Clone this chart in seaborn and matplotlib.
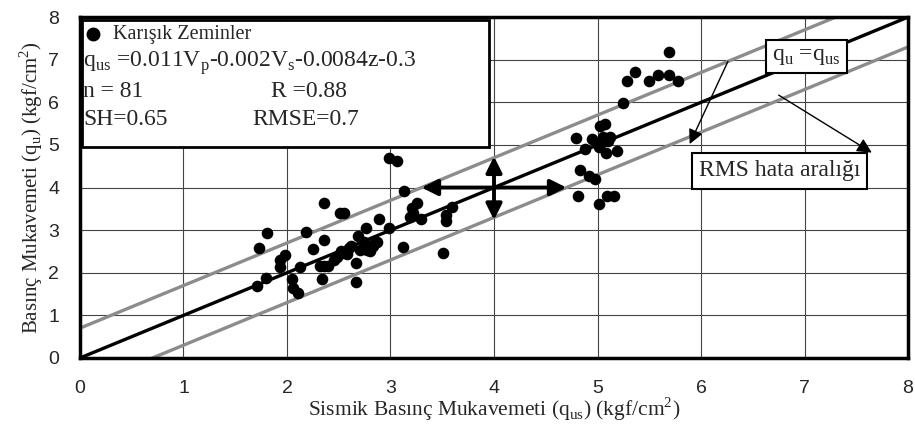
import numpy as np
import pandas as pd
import seaborn as sns
import matplotlib.pyplot as plt
from matplotlib.patches import Rectangle

q_us = [5.69, 5.36, 5.28, 5.50, 5.58, 5.69, 5.78, 5.25, 5.02, 5.07,
        4.79, 4.95, 5.05, 5.12, 5.01, 4.88, 5.08, 5.19, 4.83, 4.92,
        4.98, 4.81, 5.01, 5.09, 5.16, 5.03,
        2.99, 3.06, 3.13, 3.26, 3.21, 3.19, 3.29, 3.59, 3.54, 3.54,
        2.99, 3.12, 3.51, 2.89,
        2.36, 2.51, 2.55, 2.76, 2.18, 2.36, 2.69, 2.74, 2.87, 2.25,
        2.60, 2.71, 2.80, 2.53, 2.48, 2.36, 2.32, 2.40, 2.67, 2.13,
        2.34, 2.67, 2.52, 2.77, 2.85,
        1.81, 1.73, 1.98, 1.93, 1.93, 1.80, 1.71, 2.05, 2.06, 2.11,
        2.62, 2.45, 2.58, 2.83, 3.22, 5.10]
q_u = [7.17, 6.72, 6.50, 6.50, 6.64, 6.64, 6.50, 5.98, 5.45, 5.49,
       5.17, 5.13, 5.19, 5.19, 4.96, 4.91, 4.80, 4.86, 4.41, 4.28,
       4.19, 3.80, 3.61, 3.80, 3.80, 5.05,
       4.69, 4.63, 3.93, 3.63, 3.51, 3.32, 3.26, 3.54, 3.36, 3.22,
       3.04, 2.60, 2.46, 3.26,
       3.63, 3.41, 3.40, 3.04, 2.95, 2.77, 2.86, 2.73, 2.73, 2.56,
       2.57, 2.54, 2.50, 2.46, 2.38, 2.16, 2.16, 2.16, 2.24, 2.14,
       1.85, 1.79, 2.50, 2.54, 2.73,
       2.94, 2.59, 2.42, 2.30, 2.14, 1.87, 1.70, 1.85, 1.64, 1.52,
       2.62, 2.30, 2.45, 2.62, 3.40, 5.10]

rmse = 0.7
ticks = list(range(0, 9))
line_x = [0, 8]

df = pd.DataFrame({'q_us': q_us, 'q_u': q_u})

sns.set_style('white')
plt.rcParams['font.family'] = ['Liberation Serif', 'DejaVu Serif']
plt.rcParams['mathtext.fontset'] = 'custom'
plt.rcParams['mathtext.rm'] = 'Liberation Serif'

fig = plt.figure(figsize=(9.15, 4.28), dpi=100)
ax = fig.add_axes([0.0874, 0.1636, 0.905, 0.7964])

# 1:1 line and RMS band
sns.lineplot(x=line_x, y=line_x, color='black', linewidth=2.4, ax=ax, zorder=3)
sns.lineplot(x=line_x, y=[v + rmse for v in line_x], color='#8c8c8c', linewidth=2.4, ax=ax, zorder=2)
sns.lineplot(x=line_x, y=[v - rmse for v in line_x], color='#8c8c8c', linewidth=2.4, ax=ax, zorder=2)

sns.scatterplot(data=df, x='q_us', y='q_u', color='black', s=70, edgecolor='black',
                linewidth=0, ax=ax, zorder=4)

ax.set_xlim(0, 8)
ax.set_ylim(0, 8)
ax.set_xticks(ticks)
ax.set_yticks(ticks)
ax.grid(True, color='#444444', linewidth=0.8)
ax.set_axisbelow(True)
for sp in ax.spines.values():
    sp.set_visible(True)
    sp.set_linewidth(2.5)
    sp.set_color('black')
ax.tick_params(direction='out', length=5, width=1, color='black')
ax.tick_params(axis='x', pad=11)
ax.tick_params(axis='y', pad=10)
for lab in ax.get_xticklabels() + ax.get_yticklabels():
    lab.set_fontfamily('Liberation Sans')
    lab.set_fontsize(14)

ax.set_xlabel('Sismik Basınç Mukavemeti (q$_{\\mathregular{us}}$) (kgf/cm$^{\\mathregular{2}}$)',
              fontsize=15.5, labelpad=-1)
ax.set_ylabel('Basınç Mukavemeti (q$_{\\mathregular{u}}$) (kgf/cm$^{\\mathregular{2}}$)',
              fontsize=15, labelpad=2)

# info box
ax.add_patch(Rectangle((0.02, 4.95), 3.93, 2.98, facecolor='white', edgecolor='black',
                       linewidth=2, zorder=5))
ax.plot([0.13], [7.6], 'o', color='black', markersize=9, zorder=6)
fs = 17
ax.text(0.32, 7.6, 'Karışık Zeminler', fontsize=14.5, va='center', zorder=6)
ax.text(0.03, 6.92, 'q$_{\\mathregular{us}}$ =0.011V$_{\\mathregular{p}}$-0.002V$_{\\mathregular{s}}$-0.0084z-0.3',
        fontsize=fs, va='center', zorder=6)
ax.text(0.03, 6.25, 'n = 81', fontsize=fs, va='center', zorder=6)
ax.text(1.85, 6.25, 'R =0.88', fontsize=fs, va='center', zorder=6)
ax.text(0.03, 5.6, 'SH=0.65', fontsize=fs, va='center', zorder=6)
ax.text(1.67, 5.6, 'RMSE=0.7', fontsize=fs, va='center', zorder=6)

# double arrows at (4, 4)
ax.annotate('', xy=(3.3, 4.0), xytext=(4.7, 4.0),
            arrowprops=dict(arrowstyle='<|-|>', color='black', lw=2.8,
                            mutation_scale=24, shrinkA=0, shrinkB=0), zorder=5)
ax.annotate('', xy=(4.0, 3.24), xytext=(4.0, 4.73),
            arrowprops=dict(arrowstyle='<|-|>', color='black', lw=2.8,
                            mutation_scale=24, shrinkA=0, shrinkB=0), zorder=5)

# labelled boxes and pointer arrows
ax.text(7.02, 7.07, 'q$_{\\mathregular{u}}$ =q$_{\\mathregular{us}}$', fontsize=17, ha='center', va='center',
        bbox=dict(boxstyle='square,pad=0.25', facecolor='white', edgecolor='black', linewidth=1.5),
        zorder=6)
ax.text(6.76, 4.39, 'RMS hata aralığı', fontsize=17, ha='center', va='center',
        bbox=dict(boxstyle='square,pad=0.3', facecolor='white', edgecolor='black', linewidth=1.5),
        zorder=6)
ax.annotate('', xy=(5.89, 5.02), xytext=(6.26, 6.96),
            arrowprops=dict(arrowstyle='-|>', color='black', lw=1.0,
                            mutation_scale=22, shrinkA=0, shrinkB=0), zorder=6)
ax.annotate('', xy=(7.65, 4.82), xytext=(6.75, 6.17),
            arrowprops=dict(arrowstyle='-|>', color='black', lw=1.0,
                            mutation_scale=22, shrinkA=0, shrinkB=0), zorder=7)

plt.savefig('out.png', dpi=100)
plt.close()
